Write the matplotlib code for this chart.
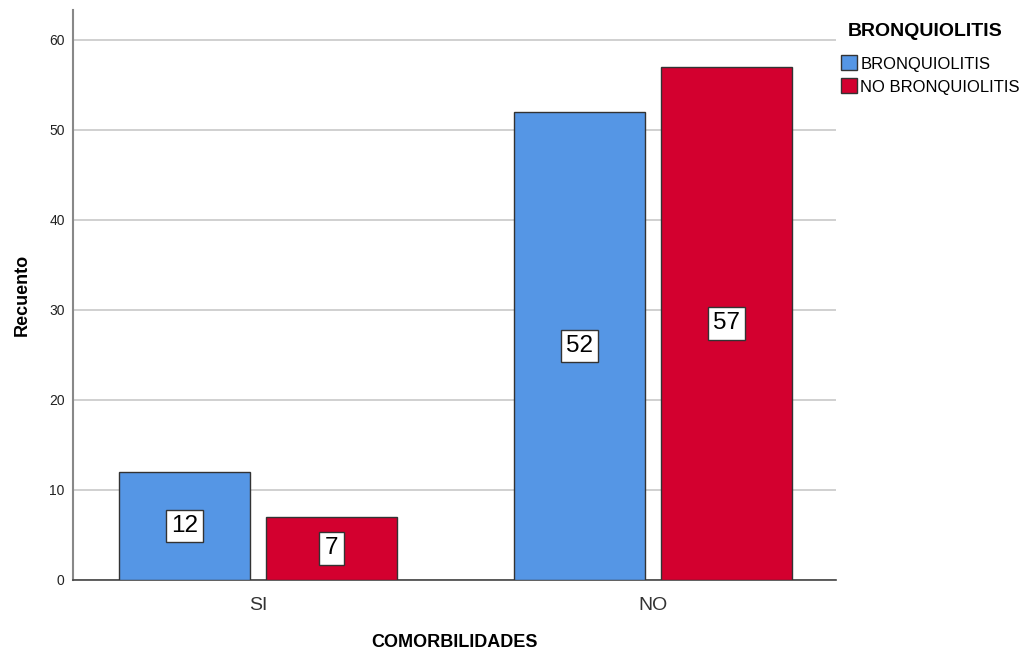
import numpy as np
import matplotlib
matplotlib.use('Agg')
import matplotlib.pyplot as plt

plt.rcParams['font.family'] = ['Liberation Sans', 'DejaVu Sans']

categories = ['SI', 'NO']
series_names = ['BRONQUIOLITIS', 'NO BRONQUIOLITIS']
bronquiolitis = [12, 52]
no_bronquiolitis = [7, 57]
yticks = [0, 10, 20, 30, 40, 50, 60]

colors = ['#5596e5', '#d3002f']

fig = plt.figure(figsize=(10.24, 6.53), dpi=100)
ax = fig.add_axes([0.0713, 0.1118, 0.7451, 0.8729])

x = np.arange(len(categories))
width = 0.332
offset = 0.186

for vals, xpos, color, name in [(bronquiolitis, x - offset, colors[0], series_names[0]),
                                (no_bronquiolitis, x + offset, colors[1], series_names[1])]:
    bars = ax.bar(xpos, vals, width=width, color=color, edgecolor='#333333',
                  linewidth=1.0, label=name, zorder=3)
    for b, v in zip(bars, vals):
        ax.text(b.get_x() + b.get_width() / 2, v / 2, str(v), ha='center', va='center',
                fontsize=17.5, zorder=4,
                bbox=dict(boxstyle='square,pad=0.22', facecolor='white',
                          edgecolor='#333333', linewidth=1.0))

ax.set_xlim(-0.468, 1.463)
ax.set_ylim(0, 63.3)
ax.set_yticks(yticks)
ax.set_xticks(x)
ax.set_xticklabels(categories, fontsize=14, color='#333333')
ax.tick_params(axis='y', labelsize=10, length=0, pad=6, colors='#222222')
ax.tick_params(axis='x', length=0, pad=12)
ax.yaxis.grid(True, color='#c8c8c8', linewidth=1.2, zorder=0)
ax.set_axisbelow(True)

for s in ['top', 'right']:
    ax.spines[s].set_visible(False)
ax.spines['left'].set_color('#888888')
ax.spines['left'].set_linewidth(1.5)
ax.spines['bottom'].set_color('#444444')
ax.spines['bottom'].set_linewidth(1.2)

ax.set_ylabel('Recuento', fontsize=13, fontweight='bold', labelpad=13)
ax.set_xlabel('COMORBILIDADES', fontsize=13, fontweight='bold', labelpad=15)

fig.text(848 / 1024, 1 - 32 / 653, 'BRONQUIOLITIS', fontsize=14, fontweight='bold',
         ha='left', va='center')
leg = ax.legend(loc='upper left', bbox_to_anchor=(838 / 1024, 1 - 52 / 653),
                bbox_transform=fig.transFigure, frameon=False, fontsize=12,
                handlelength=0.95, handleheight=1.0, handletextpad=0.2,
                labelspacing=0.42, borderpad=0.2, borderaxespad=0)

fig.savefig('out.png', dpi=100)
